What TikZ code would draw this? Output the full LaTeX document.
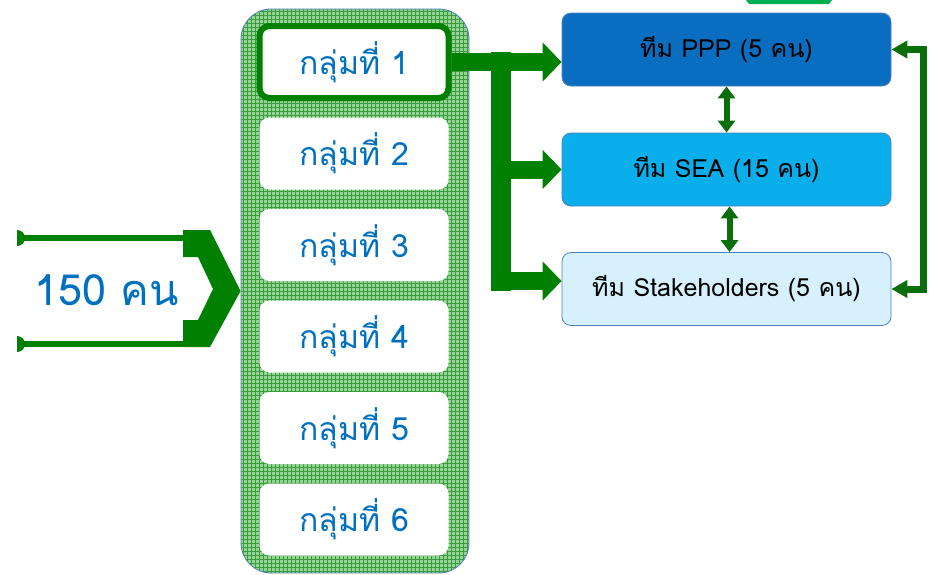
\documentclass[tikz,border=0pt]{standalone}
\usepackage{fontspec}
\newfontfamily\thaifont[Script=Thai]{Loma}
\usetikzlibrary{arrows.meta,positioning,calc}
\definecolor{FlowGreen}{HTML}{008000}
\definecolor{DarkGreen}{HTML}{0A6E0A}
\definecolor{SliverGreen}{HTML}{00B050}
\definecolor{GridGreen}{HTML}{93D393}
\definecolor{GridLine}{HTML}{3E9A3E}
\definecolor{LabelBlue}{HTML}{0070C0}
\definecolor{PPPBlue}{HTML}{0A6EC0}
\definecolor{SEABlue}{HTML}{0AAEEA}
\definecolor{StakeBlue}{HTML}{D6F1FC}
\definecolor{EdgeBlue}{HTML}{4F7FBD}

\begin{document}
\begin{tikzpicture}[
    x=1pt, y=-1pt,
    column/.style={
      draw=EdgeBlue, line width=0.8pt, fill=GridGreen, rounded corners=30pt,
      minimum width=228pt, minimum height=564pt, inner sep=0pt,
      path picture={\draw[GridLine, line width=0.6pt]
        (path picture bounding box.south west) grid[step=4pt]
        (path picture bounding box.north east);}
    },
    grp/.style={
      fill=white, rounded corners=10pt,
      minimum width=189pt, minimum height=72pt, inner sep=0pt,
      font=\thaifont\fontsize{32}{34}\selectfont, text=LabelBlue
    },
    team/.style={
      draw=EdgeBlue, line width=0.8pt, rounded corners=9pt,
      minimum width=329pt, minimum height=73pt, inner sep=0pt,
      font=\thaifont\fontsize{25}{28}\selectfont, text=black
    },
    fat/.style={-{Triangle[length=19pt,width=38pt]}, line width=18pt, draw=FlowGreen},
    duo/.style={{Triangle[length=12pt,width=17pt]}-{Triangle[length=12pt,width=17pt]},
      line width=6pt, draw=DarkGreen},
    ring/.style={{Triangle[length=16pt,width=17pt]}-{Triangle[length=16pt,width=17pt]},
      line width=7pt, draw=DarkGreen},
    feed/.style={line width=6pt, draw=FlowGreen}
  ]
  \useasboundingbox (0,0) rectangle (934,574);

  \fill[SliverGreen] (746,0) -- (832,0) -- (829,4) -- (749,4) -- cycle;

  % groups
  \node[column] (col) at (355,291) {};
  \node[grp, draw=FlowGreen, line width=6pt] (g1) at (354,62) {กลุ่มที่ 1};
  \node[grp] (g2) at (354,153.5) {กลุ่มที่ 2};
  \node[grp] (g3) at (354,245)   {กลุ่มที่ 3};
  \node[grp] (g4) at (354,336.5) {กลุ่มที่ 4};
  \node[grp] (g5) at (354,428)   {กลุ่มที่ 5};
  \node[grp] (g6) at (354,519.5) {กลุ่มที่ 6};

  % teams
  \node[team, fill=PPPBlue]   (ppp) at (726.5,49.5) {ทีม PPP (5 คน)};
  \node[team, fill=SEABlue]   (sea) at (726.5,169.5) {ทีม SEA (15 คน)};
  \node[team, fill=StakeBlue] (sh)  at (726.5,289) {ทีม Stakeholders (5 คน)};

  % 150 people
  \node[font=\thaifont\fontsize{43}{46}\selectfont, text=LabelBlue] (crowd) at (107,290) {150 คน};
  \coordinate (inA) at (17,238);
  \coordinate (inB) at (17,344);
  \coordinate (joinA) at (186,238);
  \coordinate (joinB) at (186,344);
  \draw[feed] (inA) -- (joinA);
  \draw[feed] (inB) -- (joinB);
  \begin{scope}
    \clip (17,220) rectangle (40,360);
    \fill[FlowGreen] (inA) circle[radius=8];
    \fill[FlowGreen] (inB) circle[radius=8];
  \end{scope}
  \fill[FlowGreen] (183,230) -- (210,230) -- (col.west) -- (210,347) -- (183,347)
    -- (183,320) -- (198,320) -- (213,289) -- (198,257) -- (183,257) -- cycle;

  % group 1 to teams
  \coordinate (split) at (501,62);
  \coordinate (shIn) at ($(sh.west)+(0,-8)$);
  \draw[FlowGreen, line width=20pt, line cap=rect] (split) -- (split |- shIn);
  \draw[fat] (g1.east) -- (g1.east -| ppp.west);
  \draw[fat] (split |- sea.west) -- (sea.west);
  \draw[fat] (split |- shIn) -- (shIn);

  \draw[duo] (ppp.south) -- (sea.north);
  \draw[duo] ([xshift=3pt]sea.south) -- ([xshift=3pt]sh.north);
  \draw[ring] (ppp.east) -- ++(32,0) |- (sh.east);

\end{tikzpicture}
\end{document}
